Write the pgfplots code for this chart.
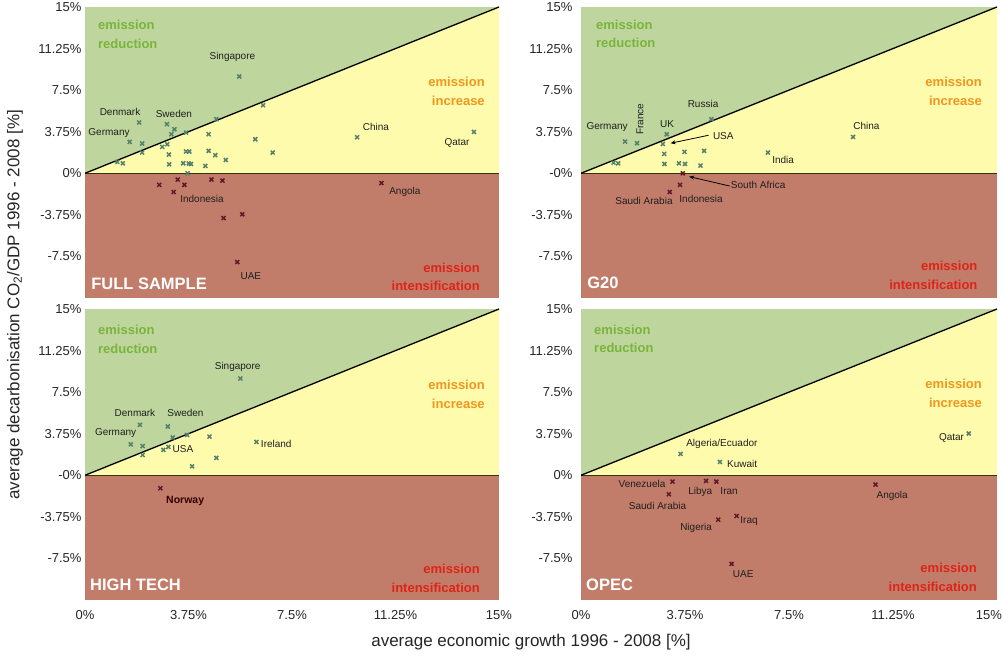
\documentclass[border=0pt]{standalone}
\usepackage{fontspec}
\setmainfont{Liberation Sans}
\usepackage{pgfplots}
\pgfplotsset{compat=1.18}
\usetikzlibrary{arrows.meta}
\definecolor{bgG}{RGB}{190,214,157}
\definecolor{bgY}{RGB}{255,251,173}
\definecolor{bgR}{RGB}{194,124,106}
\definecolor{txG}{RGB}{122,180,60}
\definecolor{txO}{RGB}{240,150,30}
\definecolor{txR}{RGB}{222,36,24}
\definecolor{mkG}{RGB}{85,130,108}
\definecolor{mkR}{RGB}{100,22,42}
\definecolor{zl}{RGB}{50,50,20}
\pgfplotsset{
  panel/.style={scale only axis, height=291pt,
    xmin=0, xmax=15, ymin=-11.25, ymax=15,
    axis line style={draw=none}, major tick style={draw=none},
    ytick={-7.5,-3.75,0,3.75,7.5,11.25,15},
    xtick={0,3.75,7.5,11.25,15},
    tick label style={font=\fontsize{13}{15}\selectfont, text=black!85},
    xticklabel style={yshift=-7pt},
    anchor=south west},
  mg/.style={only marks, mark=x, mark size=2.8pt, mark options={line width=1.5pt, draw=mkG}},
  mr/.style={only marks, mark=x, mark size=2.8pt, mark options={line width=1.5pt, draw=mkR}},
}
\tikzset{
  lbl/.style={font=\fontsize{10}{12}\selectfont, inner sep=0pt, text=black!88},
  em/.style={font=\fontsize{13}{15}\selectfont\bfseries, inner sep=0pt},
  pn/.style={font=\fontsize{16.5}{18}\selectfont\bfseries, inner sep=0pt, text=white, anchor=west},
}
\newcommand\bg{%
  \addplot[draw=none, fill=bgG] coordinates {(0,0) (15,0) (15,15) (0,15)} -- cycle;
  \addplot[draw=none, fill=bgY] coordinates {(0,0) (15,0) (15,15)} -- cycle;
  \addplot[draw=none, fill=bgR] coordinates {(0,-11.25) (15,-11.25) (15,0) (0,0)} -- cycle;
  \addplot[zl, line width=1.3pt] coordinates {(0,0) (15,0)};
  \addplot[black, line width=1.3pt] coordinates {(0,0) (15,15)};
}
\begin{document}
\begin{tikzpicture}
\path (0,0) rectangle (1003pt,658pt);
% ---------------- FULL SAMPLE
\begin{axis}[panel, width=414pt, at={(85pt,360pt)}, xticklabels={},
  yticklabels={-7.5\%,-3.75\%,0\%,3.75\%,7.5\%,11.25\%,15\%}]
\bg
\addplot[mg] coordinates {(5.59,8.73) (6.45,6.14) (4.76,4.88) (1.96,4.58) (2.97,4.43) (3.24,3.97) (3.13,3.52) (3.66,3.67) (4.48,3.52) (1.62,2.83) (2.07,2.68) (2.07,1.87) (2.98,2.62) (2.80,2.38) (3.04,1.69) (6.17,3.07) (6.80,1.87) (3.66,1.96) (3.78,1.96) (4.48,2.02) (4.72,1.63) (5.10,1.20) (1.17,1.02) (1.37,0.90) (3.05,0.81) (3.56,0.90) (3.76,0.88) (3.84,0.84) (4.36,0.66) (3.72,0.0) (9.86,3.25) (14.09,3.73)};
\addplot[mr] coordinates {(2.69,-1.05) (3.36,-0.57) (3.60,-1.05) (3.21,-1.69) (4.58,-0.57) (4.98,-0.66) (5.02,-4.04) (5.70,-3.70) (5.52,-8.01) (10.74,-0.88)};
\node[lbl] at (axis cs:5.34,10.48) {Singapore};
\node[lbl] at (axis cs:1.27,5.51) {Denmark};
\node[lbl] at (axis cs:3.22,5.33) {Sweden};
\node[lbl] at (axis cs:0.87,3.61) {Germany};
\node[lbl] at (axis cs:4.24,-2.35) {Indonesia};
\node[lbl] at (axis cs:6.01,-9.30) {UAE};
\node[lbl] at (axis cs:10.54,4.16) {China};
\node[lbl] at (axis cs:13.48,2.71) {Qatar};
\node[lbl] at (axis cs:11.59,-1.72) {Angola};
\node[em, text=txG, anchor=west] at (axis cs:0.47,13.37) {emission};
\node[em, text=txG, anchor=west] at (axis cs:0.47,11.65) {reduction};
\node[em, text=txO, anchor=east] at (axis cs:14.49,8.22) {emission};
\node[em, text=txO, anchor=east] at (axis cs:14.49,6.50) {increase};
\node[em, text=txR, anchor=east] at (axis cs:14.31,-8.49) {emission};
\node[em, text=txR, anchor=east] at (axis cs:14.31,-10.12) {intensification};
\node[pn] at (axis cs:0.22,-9.94) {FULL SAMPLE};
\end{axis}
% ---------------- G20
\begin{axis}[panel, width=416pt, at={(581pt,360pt)}, xticklabels={},
  yticklabel style={xshift=-5pt},
  yticklabels={-7.5\%,-3.75\%,-0\%,3.75\%,7.5\%,11.25\%,15\%}]
\bg
\addplot[mg] coordinates {(4.70,4.88) (3.09,3.52) (2.95,2.65) (1.59,2.86) (2.02,2.71) (1.17,0.96) (1.34,0.90) (3.00,1.75) (3.73,1.93) (4.44,2.02) (3.01,0.84) (3.53,0.90) (3.75,0.84) (4.31,0.69) (6.74,1.87) (9.81,3.28)};
\addplot[mr] coordinates {(3.67,0.0) (3.57,-1.05) (3.20,-1.69)};
\node[lbl] at (axis cs:0.94,4.16) {Germany};
\node[lbl, rotate=90] at (axis cs:2.13,4.88) {France};
\node[lbl] at (axis cs:3.10,4.43) {UK};
\node[lbl] at (axis cs:4.40,6.23) {Russia};
\node[lbl] at (axis cs:5.13,3.34) {USA};
\node[lbl] at (axis cs:6.39,-1.08) {South Africa};
\node[lbl] at (axis cs:2.27,-2.53) {Saudi Arabia};
\node[lbl] at (axis cs:4.33,-2.35) {Indonesia};
\node[lbl] at (axis cs:7.29,1.17) {India};
\node[lbl] at (axis cs:10.29,4.25) {China};
\draw[-{Stealth[length=5pt,width=4pt]}, line width=0.8pt] (axis cs:4.60,3.43) -- (axis cs:3.23,2.71);
\draw[-{Stealth[length=5pt,width=4pt]}, line width=0.8pt] (axis cs:5.36,-1.15) -- (axis cs:3.90,-0.30);
\node[em, text=txG, anchor=west] at (axis cs:0.54,13.40) {emission};
\node[em, text=txG, anchor=west] at (axis cs:0.54,11.74) {reduction};
\node[em, text=txO, anchor=east] at (axis cs:14.46,8.25) {emission};
\node[em, text=txO, anchor=east] at (axis cs:14.46,6.53) {increase};
\node[em, text=txR, anchor=east] at (axis cs:14.30,-8.37) {emission};
\node[em, text=txR, anchor=east] at (axis cs:14.30,-10.03) {intensification};
\node[pn] at (axis cs:0.22,-9.85) {G20};
\end{axis}
% ---------------- HIGH TECH
\begin{axis}[panel, width=414pt, at={(85pt,58pt)},
  xticklabels={0\%,3.75\%,7.5\%,11.25\%,15\%},
  yticklabels={-7.5\%,-3.75\%,-0\%,3.75\%,7.5\%,11.25\%,15\%}]
\bg
\addplot[mg] coordinates {(5.63,8.73) (1.99,4.55) (3.00,4.40) (3.18,3.41) (3.70,3.64) (4.51,3.49) (1.66,2.79) (2.09,2.64) (2.09,1.83) (3.02,2.56) (2.84,2.29) (4.76,1.57) (3.88,0.81) (6.21,3.01)};
\addplot[mr] coordinates {(2.73,-1.17)};
\node[lbl] at (axis cs:5.53,9.82) {Singapore};
\node[lbl] at (axis cs:1.81,5.60) {Denmark};
\node[lbl] at (axis cs:3.64,5.60) {Sweden};
\node[lbl] at (axis cs:1.11,3.82) {Germany};
\node[lbl] at (axis cs:3.55,2.38) {USA};
\node[lbl] at (axis cs:6.93,2.83) {Ireland};
\node[lbl, font=\fontsize{10.5}{12}\selectfont\bfseries, text=black!80!red] at (axis cs:3.63,-2.32) {Norway};
\node[em, text=txG, anchor=west] at (axis cs:0.47,13.10) {emission};
\node[em, text=txG, anchor=west] at (axis cs:0.47,11.38) {reduction};
\node[em, text=txO, anchor=east] at (axis cs:14.49,8.13) {emission};
\node[em, text=txO, anchor=east] at (axis cs:14.49,6.44) {increase};
\node[em, text=txR, anchor=east] at (axis cs:14.31,-8.46) {emission};
\node[em, text=txR, anchor=east] at (axis cs:14.31,-10.12) {intensification};
\node[pn] at (axis cs:0.18,-9.90) {HIGH TECH};
\end{axis}
% ---------------- OPEC
\begin{axis}[panel, width=416pt, at={(581pt,58pt)},
  yticklabel style={xshift=-5pt},
  xticklabels={0\%,3.75\%,7.5\%,11.25\%,\makebox[10pt][r]{15\%}},
  yticklabels={-7.5\%,-3.75\%,0\%,3.75\%,7.5\%,11.25\%,15\%}]
\bg
\addplot[mg] coordinates {(3.59,1.93) (5.01,1.20) (13.98,3.77)};
\addplot[mr] coordinates {(3.30,-0.57) (3.17,-1.71) (4.51,-0.51) (4.88,-0.57) (4.95,-4.0) (5.61,-3.67) (5.43,-7.99) (10.62,-0.84)};
\node[lbl] at (axis cs:5.08,2.83) {Algeria/Ecuador};
\node[lbl] at (axis cs:5.81,1.02) {Kuwait};
\node[lbl] at (axis cs:2.20,-0.75) {Venezuela};
\node[lbl] at (axis cs:4.30,-1.47) {Libya};
\node[lbl] at (axis cs:5.34,-1.47) {Iran};
\node[lbl] at (axis cs:2.76,-2.74) {Saudi Arabia};
\node[lbl] at (axis cs:4.15,-4.73) {Nigeria};
\node[lbl] at (axis cs:6.06,-4.09) {Iraq};
\node[lbl] at (axis cs:5.85,-8.91) {UAE};
\node[lbl] at (axis cs:13.36,3.41) {Qatar};
\node[lbl] at (axis cs:11.22,-1.83) {Angola};
\node[em, text=txG, anchor=west] at (axis cs:0.47,13.10) {emission};
\node[em, text=txG, anchor=west] at (axis cs:0.47,11.47) {reduction};
\node[em, text=txO, anchor=east] at (axis cs:14.46,8.22) {emission};
\node[em, text=txO, anchor=east] at (axis cs:14.46,6.53) {increase};
\node[em, text=txR, anchor=east] at (axis cs:14.28,-8.34) {emission};
\node[em, text=txR, anchor=east] at (axis cs:14.28,-10.06) {intensification};
\node[pn] at (axis cs:0.18,-9.85) {OPEC};
\end{axis}
\node[rotate=90, font=\fontsize{17}{20}\selectfont, text=black!85] at (15pt,353pt) {average decarbonisation CO\textsubscript{2}/GDP 1996 - 2008 [\%]};
\node[font=\fontsize{17}{20}\selectfont, text=black!85] at (531pt,16pt) {average economic growth 1996 - 2008 [\%]};
\pgfresetboundingbox
\path[use as bounding box] (0,0) rectangle (1003pt,658pt);
\end{tikzpicture}
\end{document}
